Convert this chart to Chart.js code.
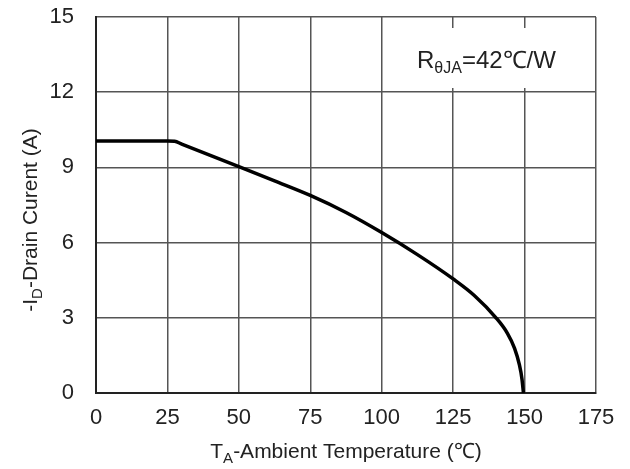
<!DOCTYPE html>
<html>
<head>
<meta charset="utf-8">
<script src="https://cdn.jsdelivr.net/npm/chart.js@4.4.0/dist/chart.umd.min.js"></script>
<style>
  html, body { margin: 0; padding: 0; background: #fff; }
  #wrap { width: 630px; height: 469px; position: relative; }
</style>
</head>
<body>
<div id="wrap"><canvas id="derating"></canvas></div>
<script>
// Derating curve: drain current vs ambient temperature
const temps    = [0, 25, 27.5, 30, 40, 50, 62.5, 75, 87.5, 100, 112.5, 125, 132.5, 140, 144, 146.5, 148.2, 149.1, 149.6];
const currents = [10.05, 10.05, 10.04, 9.93, 9.48, 9.03, 8.46, 7.88, 7.2, 6.40, 5.52, 4.55, 3.88, 3.0, 2.38, 1.78, 1.12, 0.55, 0];

const xTicks = [0, 25, 50, 75, 100, 125, 150, 175];
const yTicks = [0, 3, 6, 9, 12, 15];

const FONT = '"Liberation Sans", Arial, sans-serif';
const TEXT_COLOR = '#222';

// draw text pieces, some of them as subscripts
function drawParts(ctx, parts, x, y, size, subSize, align) {
    let total = 0;
    parts.forEach(p => {
        ctx.font = (p.sub ? subSize : size) + 'px ' + FONT;
        p.w = ctx.measureText(p.t).width;
        total += p.w;
    });
    let cx = align === 'center' ? x - total / 2 : x;
    ctx.textAlign = 'left';
    ctx.textBaseline = 'alphabetic';
    parts.forEach(p => {
        ctx.font = (p.sub ? subSize : size) + 'px ' + FONT;
        ctx.fillText(p.t, cx, p.sub ? y + 5 : y);
        cx += p.w;
    });
}

const labelsPlugin = {
    id: 'labels',
    beforeDatasetsDraw(chart) {
        const ctx = chart.ctx;
        ctx.save();
        // white box behind the note
        ctx.fillStyle = '#fff';
        ctx.fillRect(408, 28, 166, 60);
        ctx.fillStyle = TEXT_COLOR;
        drawParts(ctx, [{ t: 'R' }, { t: 'θJA', sub: true }, { t: '=42℃/W' }], 417, 68, 24, 16, 'left');
        ctx.restore();
    },
    afterDraw(chart) {
        const ctx = chart.ctx;
        const area = chart.chartArea;
        ctx.save();
        ctx.fillStyle = TEXT_COLOR;
        drawParts(ctx, [{ t: 'T' }, { t: 'A', sub: true }, { t: '-Ambient Temperature (℃)' }],
            (area.left + area.right) / 2, 458, 21, 15, 'center');
        ctx.translate(37, 220);
        ctx.rotate(-Math.PI / 2);
        drawParts(ctx, [{ t: '-I' }, { t: 'D', sub: true }, { t: '-Drain Curent (A)' }], 0, 0, 21, 15, 'center');
        ctx.restore();
    }
};

new Chart(document.getElementById('derating'), {
    type: 'line',
    data: {
        datasets: [{
            data: temps.map((t, i) => ({ x: t, y: currents[i] })),
            borderColor: '#000',
            borderWidth: 3.5,
            pointRadius: 0,
            fill: false,
            cubicInterpolationMode: 'monotone'
        }]
    },
    options: {
        responsive: true,
        maintainAspectRatio: false,
        animation: false,
        layout: { padding: { top: 17, right: 34, left: 0, bottom: 0 } },
        plugins: {
            legend: { display: false },
            tooltip: { enabled: false }
        },
        scales: {
            x: {
                type: 'linear',
                min: 0,
                max: 175,
                afterBuildTicks: s => { s.ticks = xTicks.map(v => ({ value: v })); },
                afterFit: s => { s.height = 469 - 393; s.paddingLeft = 0; s.paddingRight = 0; },
                grid: { color: '#555', lineWidth: 1.5, drawTicks: false },
                border: { color: '#222', width: 2 },
                ticks: {
                    padding: 12,
                    color: TEXT_COLOR,
                    font: { size: 22, family: FONT }
                }
            },
            y: {
                min: 0,
                max: 15,
                afterBuildTicks: s => { s.ticks = yTicks.map(v => ({ value: v })); },
                afterFit: s => { s.width = 96; s.paddingTop = 0; s.paddingBottom = 0; },
                grid: { color: '#555', lineWidth: 1.5, drawTicks: false },
                border: { color: '#222', width: 2 },
                ticks: {
                    padding: 22,
                    color: TEXT_COLOR,
                    font: { size: 22, family: FONT }
                }
            }
        }
    },
    plugins: [labelsPlugin]
});
</script>
</body>
</html>
